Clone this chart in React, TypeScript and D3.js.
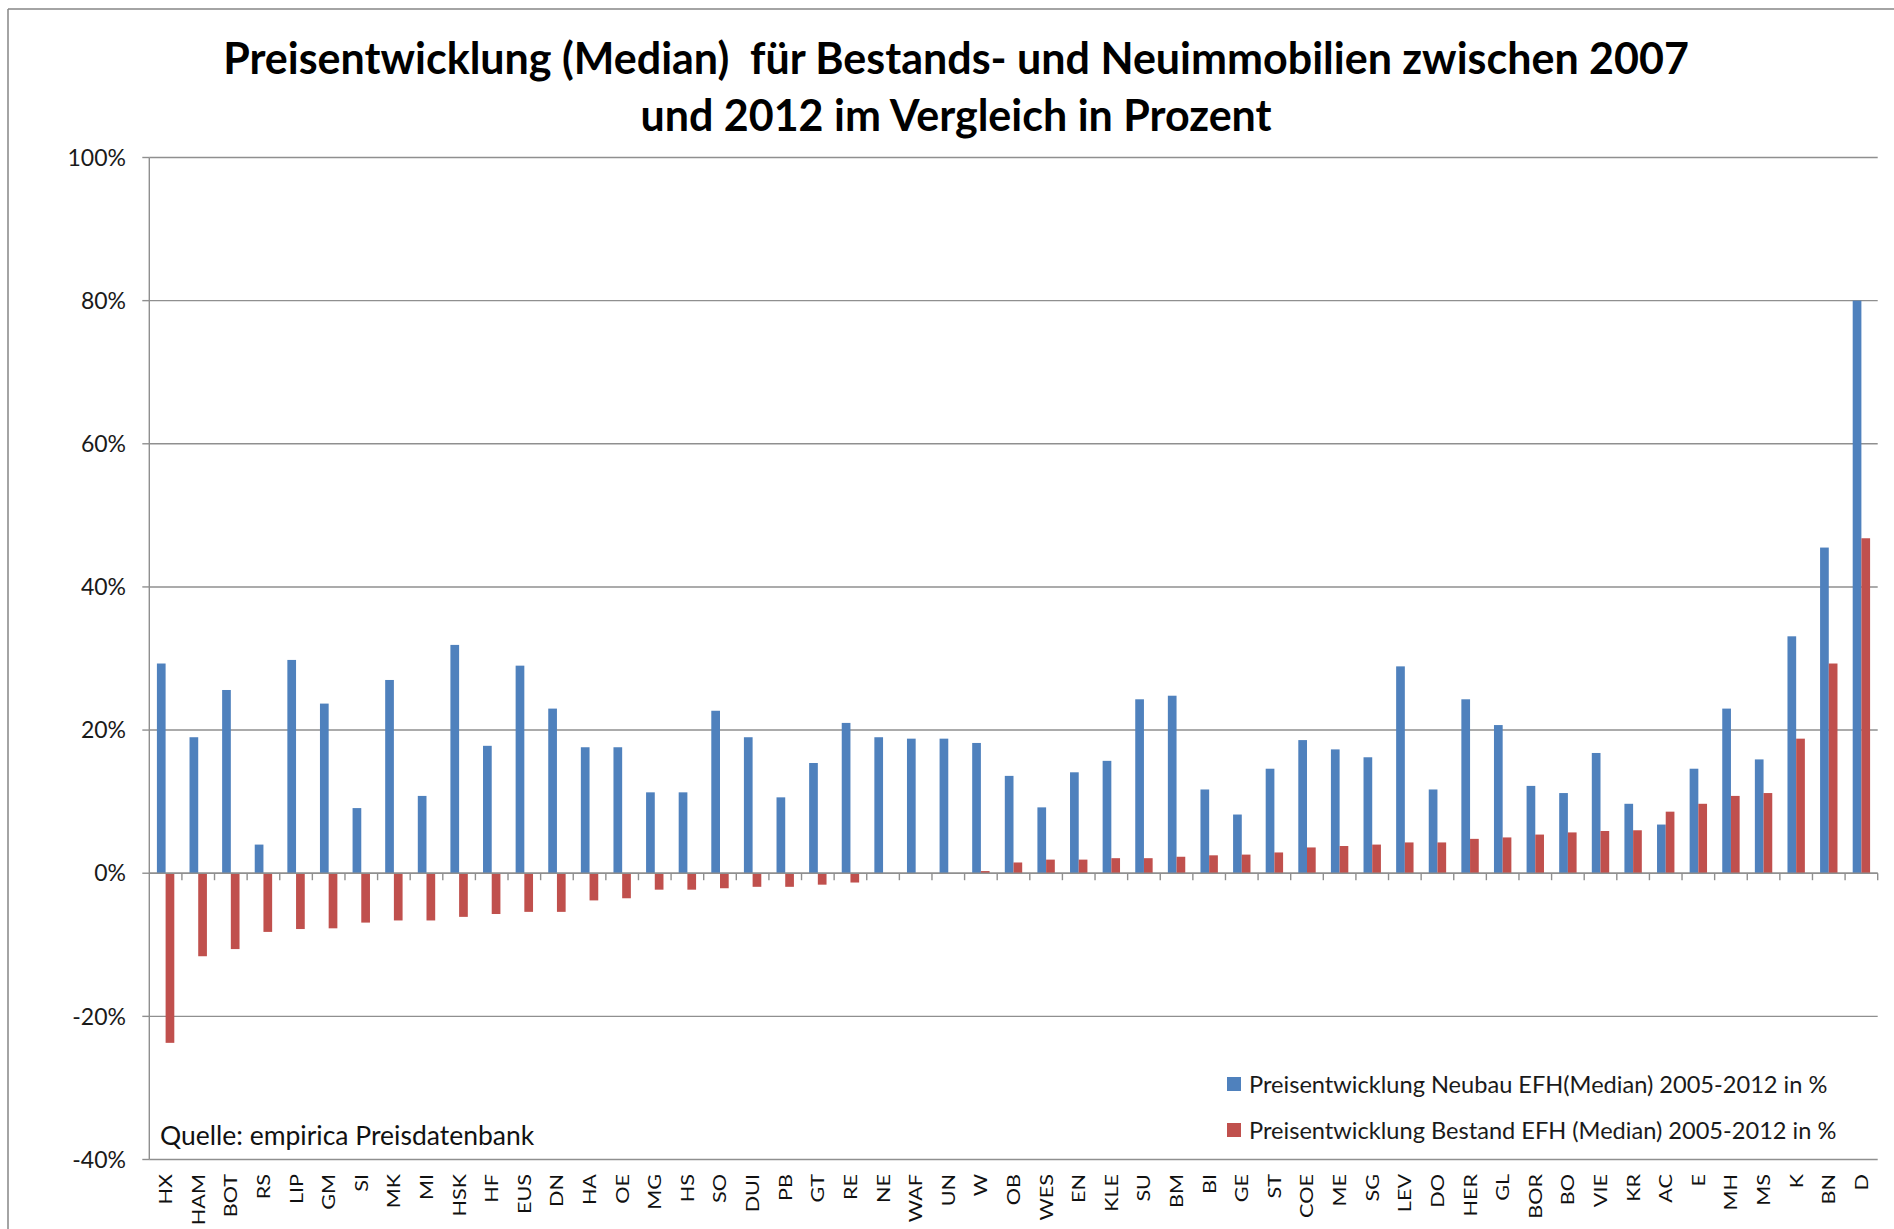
import React, { useEffect } from 'react';
import * as d3 from 'd3';

// Kreise / Städte (Kfz-Kennzeichen), sortiert nach Bestand
const categories = [
  'HX', 'HAM', 'BOT', 'RS', 'LIP', 'GM', 'SI', 'MK', 'MI', 'HSK', 'HF', 'EUS', 'DN', 'HA', 'OE', 'MG', 'HS',
  'SO', 'DUI', 'PB', 'GT', 'RE', 'NE', 'WAF', 'UN', 'W', 'OB', 'WES', 'EN', 'KLE', 'SU', 'BM', 'BI', 'GE',
  'ST', 'COE', 'ME', 'SG', 'LEV', 'DO', 'HER', 'GL', 'BOR', 'BO', 'VIE', 'KR', 'AC', 'E', 'MH', 'MS', 'K',
  'BN', 'D',
];

// Preisentwicklung Neubau EFH (Median) in %
const neubau = [
  29.3, 19.0, 25.6, 4.0, 29.8, 23.7, 9.1, 27.0, 10.8, 31.9, 17.8, 29.0, 23.0, 17.6, 17.6, 11.3, 11.3,
  22.7, 19.0, 10.6, 15.4, 21.0, 19.0, 18.8, 18.8, 18.2, 13.6, 9.2, 14.1, 15.7, 24.3, 24.8, 11.7, 8.2,
  14.6, 18.6, 17.3, 16.2, 28.9, 11.7, 24.3, 20.7, 12.2, 11.2, 16.8, 9.7, 6.8, 14.6, 23.0, 15.9, 33.1,
  45.5, 80.0,
];

// Preisentwicklung Bestand EFH (Median) in %
const bestand = [
  -23.7, -11.6, -10.6, -8.2, -7.8, -7.7, -6.9, -6.6, -6.6, -6.1, -5.7, -5.4, -5.4, -3.8, -3.5, -2.3, -2.3,
  -2.1, -1.9, -1.9, -1.6, -1.3, 0, 0, 0, 0.3, 1.5, 1.9, 1.9, 2.1, 2.1, 2.3, 2.5, 2.6,
  2.9, 3.6, 3.8, 4.0, 4.3, 4.3, 4.8, 5.0, 5.4, 5.7, 5.9, 6.0, 8.6, 9.7, 10.8, 11.2, 18.8,
  29.3, 46.8,
];

const yTicks = [-40, -20, 0, 20, 40, 60, 80, 100];

const seriesNames = [
  'Preisentwicklung Neubau EFH(Median) 2005-2012 in %',
  'Preisentwicklung Bestand EFH (Median) 2005-2012 in %',
];

const titleLines = [
  'Preisentwicklung (Median)  für Bestands- und Neuimmobilien zwischen 2007',
  'und 2012 im Vergleich in Prozent',
];

const source = 'Quelle: empirica Preisdatenbank';

const W = 1894;
const H = 1229;
const BLUE = '#4f81bd';
const RED = '#c0504d';
const GRID = '#8f8f8f';
const FONT = 'Lato, "Open Sans", sans-serif';

export default function App() {
  useEffect(() => {
    document.body.style.margin = '0';
  }, []);

  const plot = { left: 149.3, right: 1877.7, top: 157.5, bottom: 1159.5 };

  const x = d3.scaleBand<string>()
    .domain(categories)
    .range([plot.left, plot.right])
    .paddingInner(0)
    .paddingOuter(0);

  const y = d3.scaleLinear()
    .domain([-40, 100])
    .range([plot.bottom, plot.top]);

  const barW = 8.7;
  const bw = x.bandwidth();
  const y0 = y(0);

  return (
    <svg width={W} height={H} style={{ display: 'block', background: '#fff' }} fontFamily={FONT}>
      {/* outer chart border (cut at right/bottom) */}
      <line x1={8} x2={8} y1={9} y2={H} stroke="#868686" strokeWidth={1.5} />
      <line x1={8} x2={W} y1={9} y2={9} stroke="#868686" strokeWidth={1.5} />

      {/* title */}
      {titleLines.map((t, i) => (
        <text key={i} x={956} y={74 + i * 57} textAnchor="middle" fontSize={43} fontWeight={700} fill="#000"
          style={{ whiteSpace: 'pre' }}>
          {t}
        </text>
      ))}

      {/* gridlines + y ticks */}
      {yTicks.map((t) => (
        <g key={t}>
          <line x1={plot.left} x2={plot.right} y1={y(t)} y2={y(t)} stroke={GRID} strokeWidth={1.4} />
          <line x1={plot.left - 7} x2={plot.left} y1={y(t)} y2={y(t)} stroke={GRID} strokeWidth={1.4} />
          <text x={126} y={y(t)} dy="0.36em" textAnchor="end" fontSize={23} fill="#1a1a1a">
            {String(t) + '%'}
          </text>
        </g>
      ))}

      {/* y axis */}
      <line x1={plot.left} x2={plot.left} y1={plot.top} y2={plot.bottom} stroke={GRID} strokeWidth={1.4} />

      {/* bars */}
      {categories.map((c, i) => {
        const cx = (x(c) as number) + bw / 2;
        const a = neubau[i];
        const b = bestand[i];
        return (
          <g key={c}>
            <rect x={cx - barW} width={barW} y={Math.min(y(a), y0)} height={Math.abs(y(a) - y0)} fill={BLUE} />
            <rect x={cx} width={barW} y={Math.min(y(b), y0)} height={Math.abs(y(b) - y0)} fill={RED} />
          </g>
        );
      })}

      {/* category axis at 0% with ticks on band boundaries */}
      <line x1={plot.left} x2={plot.right} y1={y0} y2={y0} stroke={GRID} strokeWidth={1.4} />
      {categories.map((c) => (
        <line key={'t' + c} x1={(x(c) as number) + bw} x2={(x(c) as number) + bw} y1={y0} y2={y0 + 7}
          stroke={GRID} strokeWidth={1.4} />
      ))}

      {/* category labels at bottom */}
      {categories.map((c) => {
        const cx = (x(c) as number) + bw / 2;
        return (
          <text key={'l' + c} transform={`translate(${cx},1174) rotate(-90) scale(1.2,1)`} dy="0.36em"
            textAnchor="end" fontSize={18} fill="#111">
            {c}
          </text>
        );
      })}

      {/* source */}
      <text x={160} y={1145} fontSize={26.5} fill="#111">{source}</text>

      {/* legend */}
      {seriesNames.map((s, i) => (
        <g key={s} transform={`translate(1227,${1077 + i * 46})`}>
          <rect width={14} height={14} fill={i === 0 ? BLUE : RED} />
          <text x={22} y={7} dy="0.36em" fontSize={23.6} fill="#1a1a1a">{s}</text>
        </g>
      ))}
    </svg>
  );
}
